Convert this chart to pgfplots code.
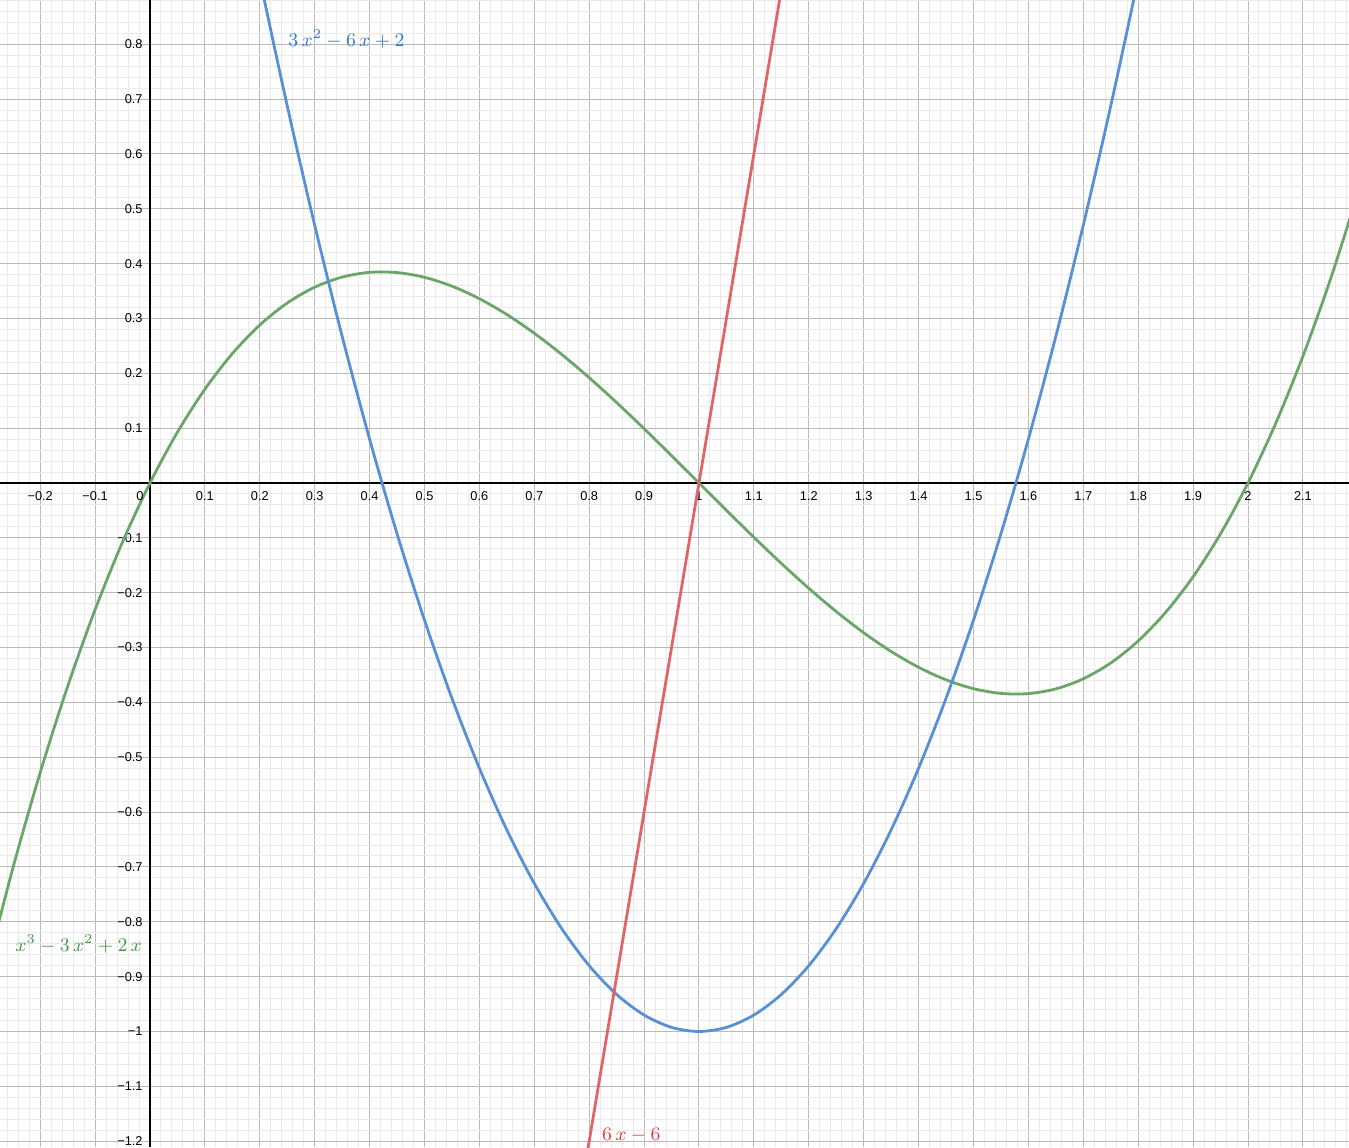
\RequirePackage{fix-cm}
\documentclass[border=0pt]{standalone}
\usepackage[no-math]{fontspec}
\setmainfont{Liberation Sans}
\usepackage{pgfplots}
\pgfplotsset{compat=1.18}
\definecolor{cgreen}{RGB}{106,166,106}
\definecolor{cblue}{RGB}{88,144,214}
\definecolor{cred}{RGB}{224,100,104}
\definecolor{lgreen}{RGB}{70,150,70}
\definecolor{lblue}{RGB}{50,118,204}
\definecolor{lred}{RGB}{216,62,66}
\definecolor{gridmaj}{RGB}{186,186,186}
\definecolor{gridmin}{RGB}{234,234,234}
\begin{document}
\begin{tikzpicture}
\useasboundingbox (0,0) rectangle (674.5pt,573.5pt);
\clip (0,0) rectangle (674.5pt,573.5pt);
\begin{axis}[at={(0,0)}, anchor=south west, scale only axis,
  width=674.5pt, height=573.5pt,
  xmin=-0.2732, xmax=2.1840, ymin=-1.2106, ymax=0.8806,
  axis lines=middle,
  axis line style={black, line width=0.9pt, -},
  every inner x axis line/.append style={-},
  every inner y axis line/.append style={-},
  hide obscured x ticks=false, hide obscured y ticks=false,
  xtick={-0.2,-0.1,0,0.1,0.2,0.3,0.4,0.5,0.6,0.7,0.8,0.9,1,1.1,1.2,1.3,1.4,1.5,1.6,1.7,1.8,1.9,2,2.1},
  xticklabels={−0.2,−0.1,,0.1,0.2,0.3,0.4,0.5,0.6,0.7,0.8,0.9,1,1.1,1.2,1.3,1.4,1.5,1.6,1.7,1.8,1.9,2,2.1},
  ytick={-1.2,-1.1,-1,-0.9,-0.8,-0.7,-0.6,-0.5,-0.4,-0.3,-0.2,-0.1,0,0.1,0.2,0.3,0.4,0.5,0.6,0.7,0.8},
  yticklabels={−1.2,−1.1,−1,−0.9,−0.8,−0.7,−0.6,−0.5,−0.4,−0.3,−0.2,−0.1,,0.1,0.2,0.3,0.4,0.5,0.6,0.7,0.8},
  minor xtick={-0.28,-0.26,...,2.2},
  minor ytick={-1.22,-1.2,...,0.9},
  grid=both,
  major grid style={color=gridmaj, line width=0.5pt},
  minor grid style={color=gridmin, line width=0.5pt},
  major tick length=0pt, minor tick length=0pt,
  tick label style={font=\fontsize{6.4}{7}\selectfont},
  xticklabel style={anchor=north, inner sep=0pt, yshift=-4pt},
  yticklabel style={anchor=east, inner sep=0pt, xshift=-3.5pt},
]
\addplot[color=cgreen, line width=1.4pt, smooth] coordinates {
(-0.30,-0.897) (-0.25,-0.703125) (-0.20,-0.528) (-0.15,-0.370875) (-0.10,-0.231) (-0.05,-0.107625)
(0,0) (0.05,0.092625) (0.10,0.171) (0.15,0.235875) (0.20,0.288) (0.25,0.328125) (0.30,0.357)
(0.35,0.375375) (0.40,0.384) (0.45,0.383625) (0.50,0.375) (0.55,0.358875) (0.60,0.336)
(0.65,0.307125) (0.70,0.273) (0.75,0.234375) (0.80,0.192) (0.85,0.146625) (0.90,0.099)
(0.95,0.049875) (1.00,0) (1.05,-0.049875) (1.10,-0.099) (1.15,-0.146625) (1.20,-0.192)
(1.25,-0.234375) (1.30,-0.273) (1.35,-0.307125) (1.40,-0.336) (1.45,-0.358875) (1.50,-0.375)
(1.55,-0.383625) (1.60,-0.384) (1.65,-0.375375) (1.70,-0.357) (1.75,-0.328125) (1.80,-0.288)
(1.85,-0.235875) (1.90,-0.171) (1.95,-0.092625) (2.00,0) (2.05,0.107625) (2.10,0.231)
(2.15,0.370875) (2.20,0.528)
};
\addplot[color=cblue, line width=1.4pt, smooth] coordinates {
(0.15,1.1675) (0.20,0.92) (0.25,0.6875) (0.30,0.47) (0.35,0.2675) (0.40,0.08) (0.45,-0.0925)
(0.50,-0.25) (0.55,-0.3925) (0.60,-0.52) (0.65,-0.6325) (0.70,-0.73) (0.75,-0.8125) (0.80,-0.88)
(0.85,-0.9325) (0.90,-0.97) (0.95,-0.9925) (1.00,-1) (1.05,-0.9925) (1.10,-0.97) (1.15,-0.9325)
(1.20,-0.88) (1.25,-0.8125) (1.30,-0.73) (1.35,-0.6325) (1.40,-0.52) (1.45,-0.3925) (1.50,-0.25)
(1.55,-0.0925) (1.60,0.08) (1.65,0.2675) (1.70,0.47) (1.75,0.6875) (1.80,0.92) (1.85,1.1675)
};
\addplot[color=cred, line width=1.4pt] coordinates {(0.78,-1.32) (1.17,1.02)};
\node[anchor=north east, inner sep=0pt, xshift=-3pt, yshift=-4pt, font=\fontsize{6.4}{7}\selectfont] at (axis cs:0,0) {0};
\node[anchor=base west, inner sep=0pt, text=lblue, font=\fontsize{9.6}{12}\selectfont] at (axis cs:0.2514,0.795) {$3\,x^{2}-6\,x+2$};
\node[anchor=base west, inner sep=0pt, text=lred, font=\fontsize{9.6}{12}\selectfont] at (axis cs:0.823,-1.1996) {$6\,x-6$};
\node[anchor=base west, inner sep=0pt, text=lgreen, font=\fontsize{9.6}{12}\selectfont] at (axis cs:-0.2459,-0.855) {$x^{3}-3\,x^{2}+2\,x$};
\end{axis}
\end{tikzpicture}
\end{document}
